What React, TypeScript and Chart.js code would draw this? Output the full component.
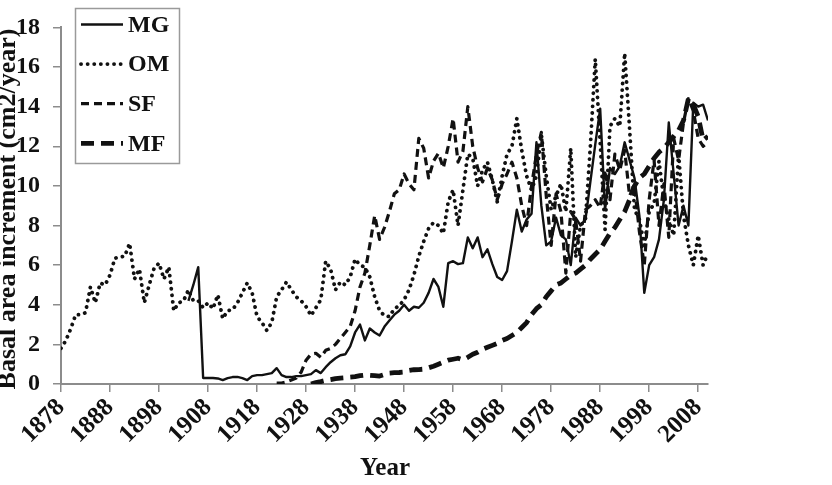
import React, { useEffect, useRef } from 'react';
import { Chart, registerables } from 'chart.js';

Chart.register(...registerables);

const FONT = '"Liberation Serif", "Times New Roman", serif';
const INK = '#111111';
const AXIS = '#8c8c8c';

const X_MIN = 1878;
const X_MAX = 2010;
const X_TICKS = [1878, 1888, 1898, 1908, 1918, 1928, 1938, 1948, 1958, 1968, 1978, 1988, 1998, 2008];
const Y_TICKS = [0, 2, 4, 6, 8, 10, 12, 14, 16, 18];
const X_TITLE = 'Year';
const Y_TITLE = 'Basal area increment (cm2/year)';
const SERIES_NAMES = ['MG', 'OM', 'SF', 'MF'];

// MG: first year 1904
const MG_START = 1904;
const MG = [
  4.2, 5.0, 5.9, 0.3, 0.3, 0.3, 0.28, 0.2, 0.3, 0.35,
  0.36, 0.3, 0.2, 0.4, 0.45, 0.45, 0.5, 0.55, 0.8, 0.45,
  0.35, 0.35, 0.4, 0.4, 0.45, 0.5, 0.7, 0.55, 0.85, 1.1,
  1.3, 1.45, 1.5, 1.9, 2.6, 3.0, 2.2, 2.8, 2.6, 2.45,
  2.9, 3.2, 3.5, 3.7, 4.0, 3.7, 3.9, 3.85, 4.1, 4.6,
  5.3, 4.9, 3.9, 6.1, 6.2, 6.05, 6.1, 7.4, 6.85, 7.4,
  6.4, 6.8, 6.05, 5.4, 5.25, 5.7, 7.2, 8.8, 7.7, 8.3,
  8.6, 12.2, 9.0, 7.0, 7.2, 8.4, 7.5, 7.3, 6.0, 8.4,
  8.0, 8.3, 10.2, 12.1, 13.9, 8.8, 10.9, 10.6, 11.0, 12.2,
  11.3, 10.4, 8.5, 4.6, 6.0, 6.4, 7.3, 9.3, 13.2, 10.6,
  8.0, 9.0, 8.0, 14.2, 14.0, 14.1, 13.3,
];

// OM: first year 1878
const OM_START = 1878;
const OM = [
  1.8, 2.2, 2.8, 3.5, 3.5, 3.6, 4.9, 4.1, 5.1, 5.0,
  5.5, 6.35, 6.4, 6.45, 7.1, 5.3, 5.8, 4.1, 5.0, 5.85,
  6.1, 5.3, 5.9, 3.7, 4.1, 4.2, 4.75, 4.2, 4.2, 3.85,
  4.1, 3.8, 4.5, 3.3, 3.7, 3.75, 4.1, 4.6, 5.1, 4.6,
  3.4, 3.1, 2.7, 3.1, 4.4, 4.75, 5.15, 4.75, 4.4, 4.2,
  3.9, 3.45, 3.85, 4.25, 6.2, 5.8, 4.75, 5.15, 5.0, 5.4,
  6.3, 6.0, 5.9, 5.4, 4.4, 3.7, 3.45, 3.4, 3.8, 3.95,
  4.25, 4.75, 5.5, 6.45, 7.2, 7.85, 8.15, 8.0, 7.6, 9.2,
  9.8, 8.0, 9.8, 11.6, 11.4, 10.0, 10.8, 11.2, 10.3, 9.2,
  10.5, 11.6, 12.0, 13.4, 11.8, 10.5, 9.8, 10.5, 12.6, 10.5,
  8.8, 9.5, 10.1, 8.7, 11.9, 6.4, 8.0, 8.3, 12.0, 16.4,
  12.2, 7.8, 13.0, 13.4, 13.0, 16.7, 12.9, 8.8, 8.3, 7.0,
  8.7, 9.1, 11.25, 9.3, 8.3, 7.5, 11.6, 8.5, 7.0, 6.0,
  7.5, 6.0, 6.6,
];

// SF: first year 1922
const SF_START = 1922;
const SF = [
  0.05, 0.05, 0.1, 0.2, 0.3, 0.6, 1.2, 1.5, 1.55, 1.35,
  1.7, 1.8, 2.0, 2.3, 2.6, 2.9, 3.7, 4.9, 5.6, 7.0,
  8.5, 7.3, 7.9, 8.7, 9.6, 9.8, 10.6, 10.1, 9.8, 12.4,
  11.9, 10.4, 11.25, 11.65, 10.9, 12.0, 13.4, 11.2, 11.75, 14.0,
  12.0, 10.9, 10.2, 10.9, 10.3, 9.3, 10.1, 10.6, 11.2, 10.4,
  9.0, 8.0, 10.0, 11.6, 12.7, 9.5, 7.0, 9.6, 8.7, 5.6,
  8.7, 8.3, 6.2, 8.8, 9.0, 9.3, 8.9, 10.8, 9.3, 11.6,
  10.8, 11.8, 9.5, 10.0, 7.7, 6.0, 9.3, 11.3, 8.0, 10.1,
  7.4, 12.4, 11.3, 13.2, 14.4, 13.8, 12.4, 12.0, 12.2,
];

// MF: first year 1929
const MF_START = 1929;
const MF = [
  0.0, 0.07, 0.12, 0.18, 0.22, 0.27, 0.3, 0.32, 0.35, 0.37,
  0.42, 0.45, 0.44, 0.42, 0.4, 0.48, 0.55, 0.57, 0.58, 0.6,
  0.68, 0.72, 0.73, 0.75, 0.82, 0.9, 1.0, 1.1, 1.2, 1.25,
  1.3, 1.22, 1.35, 1.5, 1.6, 1.75, 1.85, 1.95, 2.05, 2.2,
  2.3, 2.45, 2.6, 2.85, 3.1, 3.5, 3.8, 4.0, 4.4, 4.7,
  5.0, 5.1, 5.3, 5.5, 5.6, 5.8, 6.0, 6.3, 6.55, 6.8,
  7.2, 7.6, 7.9, 8.3, 8.7, 9.3, 10.0, 10.4, 10.6, 11.0,
  11.4, 11.7, 11.9, 12.2, 12.5, 12.8, 13.3, 14.4, 14.1, 13.5,
  12.3, 12.5,
];

type LineStyle = { width: number; dash: number[]; cap: CanvasLineCap };
const STYLES: Record<string, LineStyle> = {
  MG: { width: 2.4, dash: [], cap: 'butt' },
  OM: { width: 3.8, dash: [0.1, 6.5], cap: 'round' },
  SF: { width: 3.2, dash: [8, 5], cap: 'butt' },
  MF: { width: 4.8, dash: [13, 7], cap: 'butt' },
};

const toPoints = (start: number, values: number[]) => values.map((v, i) => ({ x: start + i, y: v }));

const SERIES_DATA: Record<string, { x: number; y: number }[]> = {
  MG: toPoints(MG_START, MG),
  OM: toPoints(OM_START, OM),
  SF: toPoints(SF_START, SF),
  MF: toPoints(MF_START, MF),
};

const overlayPlugin = {
  id: 'overlay',
  afterDraw(chart: any) {
    const ctx: CanvasRenderingContext2D = chart.ctx;
    ctx.save();
    // legend box
    ctx.fillStyle = '#ffffff';
    ctx.fillRect(75, 8, 104, 155);
    ctx.strokeStyle = '#9a9a9a';
    ctx.lineWidth = 1.5;
    ctx.strokeRect(75.5, 8.5, 104, 155);
    SERIES_NAMES.forEach((name, i) => {
      const st = STYLES[name];
      const y = 24.5 + i * 39.6;
      ctx.beginPath();
      ctx.setLineDash(st.dash);
      ctx.lineCap = st.cap;
      ctx.lineWidth = st.width;
      ctx.strokeStyle = INK;
      ctx.moveTo(81, y);
      ctx.lineTo(123, y);
      ctx.stroke();
      ctx.setLineDash([]);
      ctx.lineCap = 'butt';
      ctx.fillStyle = INK;
      ctx.font = `bold 24px ${FONT}`;
      ctx.textAlign = 'left';
      ctx.textBaseline = 'middle';
      ctx.fillText(name, 128, y + 1);
    });
    // y title (partly cut off by the left edge, as in the original)
    ctx.save();
    ctx.translate(15, 209);
    ctx.rotate(-Math.PI / 2);
    ctx.font = `bold 26px ${FONT}`;
    ctx.textAlign = 'center';
    ctx.textBaseline = 'alphabetic';
    ctx.fillStyle = INK;
    ctx.fillText(Y_TITLE, 0, 0);
    ctx.restore();
    // x title
    ctx.font = `bold 25px ${FONT}`;
    ctx.textAlign = 'center';
    ctx.textBaseline = 'middle';
    ctx.fillStyle = INK;
    ctx.fillText(X_TITLE, 385, 469);
    ctx.restore();
  },
};

export default function App() {
  const ref = useRef<HTMLCanvasElement | null>(null);
  useEffect(() => {
    if (!ref.current) return;
    const chart = new Chart(ref.current, {
      type: 'line',
      data: {
        datasets: SERIES_NAMES.map((name) => ({
          label: name,
          data: SERIES_DATA[name],
          borderColor: INK,
          backgroundColor: INK,
          borderWidth: STYLES[name].width,
          borderDash: STYLES[name].dash,
          borderCapStyle: STYLES[name].cap,
          borderJoinStyle: 'round',
          pointRadius: 0,
          tension: 0,
          fill: false,
        })),
      },
      options: {
        animation: false,
        responsive: true,
        maintainAspectRatio: false,
        layout: { padding: { top: 16, right: 124, bottom: 0, left: 0 } },
        plugins: { legend: { display: false }, tooltip: { enabled: false } },
        scales: {
          x: {
            type: 'linear',
            min: X_MIN,
            max: X_MAX,
            afterBuildTicks: (s: any) => {
              s.ticks = X_TICKS.map((v) => ({ value: v }));
            },
            afterFit: (s: any) => {
              s.height = 101;
            },
            ticks: {
              autoSkip: false,
              maxRotation: 45,
              minRotation: 45,
              padding: 1,
              color: INK,
              font: { family: FONT, size: 25, weight: 'bold' },
              callback: (v: any) => String(v),
            },
            grid: { drawOnChartArea: false, drawTicks: true, tickLength: 8, color: AXIS, lineWidth: 1.5 },
            border: { display: true, color: AXIS, width: 2 },
          },
          y: {
            min: 0,
            max: 18,
            afterBuildTicks: (s: any) => {
              s.ticks = Y_TICKS.map((v) => ({ value: v }));
            },
            afterFit: (s: any) => {
              s.width = 61;
            },
            ticks: {
              padding: 13,
              color: INK,
              font: { family: FONT, size: 24, weight: 'bold' },
              callback: (v: any) => String(v),
            },
            grid: { drawOnChartArea: false, drawTicks: true, tickLength: 8, color: AXIS, lineWidth: 1.5 },
            border: { display: true, color: AXIS, width: 2 },
          },
        },
      },
      plugins: [overlayPlugin],
    } as any);
    return () => chart.destroy();
  }, []);
  return (
    <div style={{ position: 'absolute', left: 0, top: 0, width: 832, height: 485, background: '#fff' }}>
      <canvas ref={ref} />
    </div>
  );
}
